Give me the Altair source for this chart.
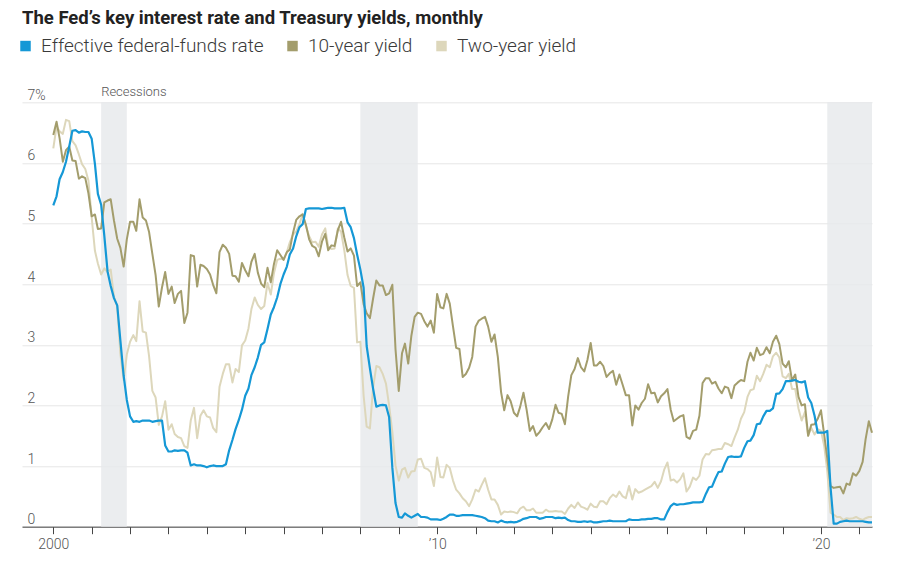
import altair as alt
import pandas as pd

# ---------------- data (month-end points, Dec 1999 .. Apr 2021) ----------------
FIRST_MONTH = "1999-12"
fed_funds = [
    5.30,
    5.45, 5.73, 5.85, 6.02, 6.27, 6.53, 6.54, 6.50, 6.52, 6.51, 6.51, 6.40,
    5.98, 5.49, 5.31, 4.80, 4.21, 3.97, 3.77, 3.65, 3.07, 2.49, 2.09, 1.82,
    1.73, 1.74, 1.73, 1.75, 1.75, 1.75, 1.73, 1.74, 1.75, 1.75, 1.34, 1.24,
    1.24, 1.26, 1.25, 1.26, 1.26, 1.22, 1.01, 1.03, 1.01, 1.01, 1.00, 0.98,
    1.00, 1.01, 1.00, 1.00, 1.00, 1.03, 1.26, 1.43, 1.61, 1.76, 1.93, 2.16,
    2.28, 2.50, 2.63, 2.79, 3.00, 3.04, 3.26, 3.50, 3.62, 3.78, 4.00, 4.16,
    4.29, 4.49, 4.59, 4.79, 4.94, 4.99, 5.24, 5.25, 5.25, 5.25, 5.25, 5.24,
    5.25, 5.26, 5.26, 5.25, 5.25, 5.25, 5.26, 5.02, 4.94, 4.76, 4.49, 4.24,
    3.94, 2.98, 2.61, 2.28, 1.98, 2.00, 2.01, 2.00, 1.81, 0.97, 0.39, 0.16,
    0.15, 0.22, 0.18, 0.15, 0.18, 0.21, 0.16, 0.16, 0.15, 0.12, 0.12, 0.12,
    0.11, 0.13, 0.16, 0.20, 0.20, 0.18, 0.18, 0.19, 0.19, 0.19, 0.19, 0.18,
    0.17, 0.16, 0.14, 0.10, 0.09, 0.09, 0.07, 0.10, 0.08, 0.07, 0.08, 0.07,
    0.08, 0.10, 0.13, 0.14, 0.16, 0.16, 0.16, 0.13, 0.14, 0.16, 0.16, 0.16,
    0.14, 0.15, 0.14, 0.15, 0.11, 0.09, 0.09, 0.08, 0.08, 0.09, 0.08, 0.09,
    0.07, 0.07, 0.08, 0.09, 0.09, 0.10, 0.09, 0.09, 0.09, 0.09, 0.09, 0.12,
    0.11, 0.11, 0.11, 0.12, 0.12, 0.13, 0.13, 0.14, 0.14, 0.12, 0.12, 0.24,
    0.34, 0.38, 0.36, 0.37, 0.37, 0.38, 0.39, 0.40, 0.40, 0.40, 0.41, 0.54,
    0.65, 0.66, 0.79, 0.90, 0.91, 1.04, 1.15, 1.16, 1.15, 1.15, 1.16, 1.30,
    1.41, 1.42, 1.51, 1.69, 1.70, 1.82, 1.91, 1.91, 1.95, 2.19, 2.20, 2.27,
    2.40, 2.40, 2.41, 2.42, 2.39, 2.38, 2.40, 2.13, 2.04, 1.83, 1.55, 1.55,
    1.55, 1.58, 0.65, 0.05, 0.05, 0.08, 0.09, 0.10, 0.09, 0.09, 0.09, 0.09,
    0.09, 0.08, 0.07, 0.07,
]
ten_year = [
    6.46,
    6.68, 6.41, 6.02, 6.21, 6.27, 6.04, 6.03, 5.74, 5.78, 5.75, 5.50, 5.12,
    5.15, 4.91, 4.92, 5.35, 5.38, 5.40, 5.05, 4.75, 4.60, 4.29, 4.74, 5.03,
    5.03, 4.88, 5.40, 5.10, 5.05, 4.86, 4.50, 4.15, 3.63, 3.95, 4.20, 3.84,
    3.96, 3.69, 3.84, 3.89, 3.36, 3.53, 4.48, 4.46, 3.96, 4.32, 4.30, 4.25,
    4.16, 3.99, 3.85, 4.53, 4.65, 4.60, 4.50, 4.14, 4.13, 4.04, 4.35, 4.23,
    4.13, 4.37, 4.50, 4.19, 4.01, 3.95, 4.27, 4.03, 4.33, 4.56, 4.48, 4.40,
    4.53, 4.57, 4.85, 5.06, 5.12, 5.15, 4.98, 4.74, 4.63, 4.60, 4.46, 4.70,
    4.83, 4.56, 4.64, 4.63, 4.89, 5.03, 4.77, 4.54, 4.59, 4.47, 3.97, 4.03,
    3.67, 3.52, 3.44, 3.76, 4.06, 3.98, 3.98, 3.82, 3.85, 3.99, 2.93, 2.24,
    2.86, 3.02, 2.69, 3.15, 3.46, 3.53, 3.51, 3.39, 3.30, 3.40, 3.20, 3.84,
    3.62, 3.60, 3.84, 3.68, 3.30, 2.95, 2.93, 2.47, 2.52, 2.62, 2.80, 3.30,
    3.40, 3.43, 3.46, 3.30, 3.05, 3.17, 2.80, 2.22, 1.92, 2.17, 2.07, 1.88,
    1.82, 1.98, 2.21, 1.93, 1.58, 1.66, 1.50, 1.56, 1.64, 1.71, 1.61, 1.77,
    2.01, 1.88, 1.86, 1.69, 2.15, 2.50, 2.60, 2.78, 2.63, 2.56, 2.75, 3.03,
    2.66, 2.66, 2.72, 2.65, 2.47, 2.53, 2.57, 2.34, 2.51, 2.34, 2.17, 2.17,
    1.67, 2.00, 1.93, 2.04, 2.11, 2.35, 2.20, 2.21, 2.05, 2.15, 2.20, 2.27,
    1.93, 1.74, 1.78, 1.82, 1.84, 1.48, 1.45, 1.58, 1.60, 1.83, 2.37, 2.45,
    2.45, 2.36, 2.39, 2.28, 2.20, 2.31, 2.29, 2.12, 2.33, 2.38, 2.42, 2.40,
    2.72, 2.87, 2.74, 2.95, 2.83, 2.85, 2.96, 2.86, 3.05, 3.15, 3.01, 2.69,
    2.63, 2.73, 2.41, 2.51, 2.14, 2.00, 2.02, 1.50, 1.68, 1.69, 1.78, 1.92,
    1.51, 1.13, 0.67, 0.64, 0.65, 0.66, 0.55, 0.71, 0.69, 0.88, 0.84, 0.92,
    1.07, 1.44, 1.74, 1.55,
]
two_year = [
    6.24,
    6.60, 6.52, 6.48, 6.71, 6.69, 6.36, 6.29, 6.14, 5.98, 5.90, 5.71, 5.10,
    4.55, 4.34, 4.16, 4.26, 4.20, 4.24, 3.79, 3.63, 2.85, 2.42, 2.84, 3.05,
    3.16, 3.06, 3.72, 3.22, 3.20, 2.81, 2.24, 2.13, 1.68, 1.82, 2.07, 1.60,
    1.69, 1.53, 1.48, 1.46, 1.33, 1.30, 1.75, 1.96, 1.46, 1.83, 1.92, 1.82,
    1.80, 1.63, 1.56, 2.31, 2.52, 2.68, 2.68, 2.38, 2.60, 2.55, 2.99, 3.07,
    3.27, 3.59, 3.78, 3.66, 3.59, 3.64, 4.02, 3.83, 4.18, 4.40, 4.42, 4.41,
    4.53, 4.69, 4.82, 4.87, 4.99, 5.16, 4.96, 4.79, 4.69, 4.70, 4.62, 4.82,
    4.92, 4.62, 4.58, 4.59, 4.92, 4.87, 4.56, 4.15, 3.97, 3.94, 3.04, 3.05,
    2.16, 1.65, 1.62, 2.29, 2.65, 2.63, 2.52, 2.36, 2.00, 1.56, 1.01, 0.76,
    0.94, 0.97, 0.81, 0.91, 0.92, 1.11, 1.12, 0.97, 0.95, 0.90, 0.67, 1.14,
    0.82, 0.81, 1.02, 0.97, 0.76, 0.61, 0.55, 0.47, 0.42, 0.34, 0.45, 0.61,
    0.58, 0.69, 0.80, 0.61, 0.45, 0.45, 0.36, 0.20, 0.25, 0.24, 0.25, 0.24,
    0.22, 0.30, 0.33, 0.27, 0.27, 0.30, 0.23, 0.23, 0.23, 0.28, 0.25, 0.25,
    0.26, 0.25, 0.25, 0.21, 0.30, 0.36, 0.31, 0.40, 0.33, 0.31, 0.28, 0.38,
    0.33, 0.32, 0.42, 0.42, 0.37, 0.47, 0.53, 0.49, 0.58, 0.50, 0.47, 0.67,
    0.45, 0.62, 0.56, 0.58, 0.61, 0.64, 0.67, 0.74, 0.64, 0.75, 0.94, 1.06,
    0.76, 0.78, 0.73, 0.78, 0.88, 0.58, 0.66, 0.81, 0.77, 0.84, 1.11, 1.20,
    1.19, 1.26, 1.27, 1.28, 1.28, 1.38, 1.36, 1.33, 1.47, 1.60, 1.78, 1.89,
    2.14, 2.25, 2.27, 2.49, 2.40, 2.52, 2.67, 2.63, 2.81, 2.87, 2.79, 2.48,
    2.45, 2.52, 2.27, 2.27, 1.95, 1.75, 1.89, 1.50, 1.63, 1.52, 1.61, 1.58,
    1.33, 0.92, 0.23, 0.20, 0.16, 0.16, 0.11, 0.14, 0.13, 0.14, 0.16, 0.13,
    0.11, 0.14, 0.16, 0.16,
]

series_names = ["Effective federal-funds rate", "10-year yield", "Two-year yield"]
series_colors = ["#1598d6", "#a39d6c", "#ddd7bb"]

recession_starts = ["2001-03-31", "2007-12-31", "2020-02-29"]
recession_ends = ["2001-11-30", "2009-06-30", "2021-04-30"]
recession_label = "Recessions"

y_ticks = [0, 1, 2, 3, 4, 5, 6, 7]
x_tick_years = list(range(2000, 2022))
x_tick_labels = {2000: "2000", 2010: "\u201910", 2020: "\u201920"}

title_text = "The Fed\u2019s key interest rate and Treasury yields, monthly"

# ---------------- build tables ----------------
def dec_year(ts):
    ts = pd.Timestamp(ts)
    days = 366 if ts.is_leap_year else 365
    return ts.year + ts.dayofyear / days

n = len(fed_funds)
assert len(ten_year) == n and len(two_year) == n, (len(fed_funds), len(ten_year), len(two_year))
first = pd.Timestamp(FIRST_MONTH + "-01")
month_ends = [(first + pd.DateOffset(months=i)) + pd.offsets.MonthEnd(0) for i in range(n)]
t = [dec_year(d) for d in month_ends]

frames = []
for name, vals in zip(series_names, [fed_funds, ten_year, two_year]):
    frames.append(pd.DataFrame({"t": t, "v": vals, "series": name}))
lines = pd.concat(frames, ignore_index=True)

rec = pd.DataFrame({
    "t0": [dec_year(s) for s in recession_starts],
    "t1": [dec_year(e) for e in recession_ends],
})
lab = pd.DataFrame({"t": [dec_year(recession_starts[0])], "v": [7], "text": [recession_label]})

X0, X1 = 1999.185, dec_year(recession_ends[-1])
FONT = "Roboto, sans-serif"
PLOT_H = 424.4

label_expr = " : ".join(
    f"datum.value == {k} ? '{v}'" for k, v in x_tick_labels.items()
) + " : ''"

xscale = alt.Scale(domain=[X0, X1], nice=False, zero=False)
yscale = alt.Scale(domain=[0, 7], nice=False, zero=True)
color_scale = alt.Scale(domain=series_names, range=series_colors)

x_axis = alt.Axis(
    values=x_tick_years, labelExpr=label_expr, title=None, grid=False,
    domain=True, domainColor="#444", domainWidth=1,
    ticks=True, tickColor="#444", tickSize=7, tickWidth=1,
    labelColor="#555", labelFontSize=14, labelFont=FONT, labelFontWeight=300,
    labelPadding=4,
)
y_axis = alt.Axis(
    values=y_ticks,
    labelExpr="datum.value == 7 ? '7%' : format(datum.value, 'd')",
    title=None, grid=True, gridColor="#e6e6e6", gridWidth=1,
    domain=False, ticks=False, tickSize=0,
    labelAlign="left", labelBaseline="bottom", labelPadding=-5,
    labelColor="#555", labelFontSize=14, labelFont=FONT, labelFontWeight=300,
)

bands = alt.Chart(rec).mark_rect(color="#e6e8eb", opacity=0.8).encode(
    x=alt.X("t0:Q", scale=xscale, axis=x_axis),
    x2="t1:Q",
    y=alt.value(0),
    y2=alt.value(PLOT_H),
)

rec_text = alt.Chart(lab).mark_text(
    align="left", baseline="bottom", dy=-3, font=FONT, fontSize=13,
    fontWeight=300, color="#555"
).encode(x=alt.X("t:Q", scale=xscale), y=alt.Y("v:Q", scale=yscale, axis=y_axis), text="text:N")

legend = alt.Legend(
    orient="none", legendX=-6, legendY=-66, direction="horizontal", title=None,
    symbolType="square", symbolSize=110, symbolStrokeWidth=0, symbolOpacity=1,
    labelFont=FONT, labelFontSize=19, labelFontWeight=300, labelLimit=0,
    labelColor="#3a3a3a", columnPadding=19, labelOffset=6, padding=0,
)

color_enc = alt.Color("series:N", scale=color_scale, legend=legend)

def series_line(name, width):
    return alt.Chart(lines).transform_filter(
        alt.datum.series == name
    ).mark_line(strokeWidth=width, strokeJoin="round").encode(
        x=alt.X("t:Q", scale=xscale),
        y=alt.Y("v:Q", scale=yscale),
        color=color_enc,
    )

# empty filled-square layer: gives the legend its solid square keys
legend_keys = alt.Chart(lines).transform_filter("false").mark_square(
    filled=True, opacity=1
).encode(
    x=alt.X("t:Q", scale=xscale),
    y=alt.Y("v:Q", scale=yscale),
    color=color_enc,
)

chart = alt.layer(
    bands,
    series_line(series_names[2], 2),
    series_line(series_names[1], 2),
    series_line(series_names[0], 2.2),
    legend_keys,
    rec_text,
).properties(
    width=850,
    height=PLOT_H,
    autosize=alt.AutoSizeParams(type="none"),
    padding={"left": 14, "top": 94.3, "right": 44, "bottom": 50},
    title=alt.TitleParams(
        text=title_text, anchor="start", frame="group", font=FONT,
        fontSize=18.5, fontWeight="bold", color="#222222", offset=9,
    ),
).configure_view(stroke=None)

chart.save("out.html", embed_options={"renderer": "svg", "actions": False})
